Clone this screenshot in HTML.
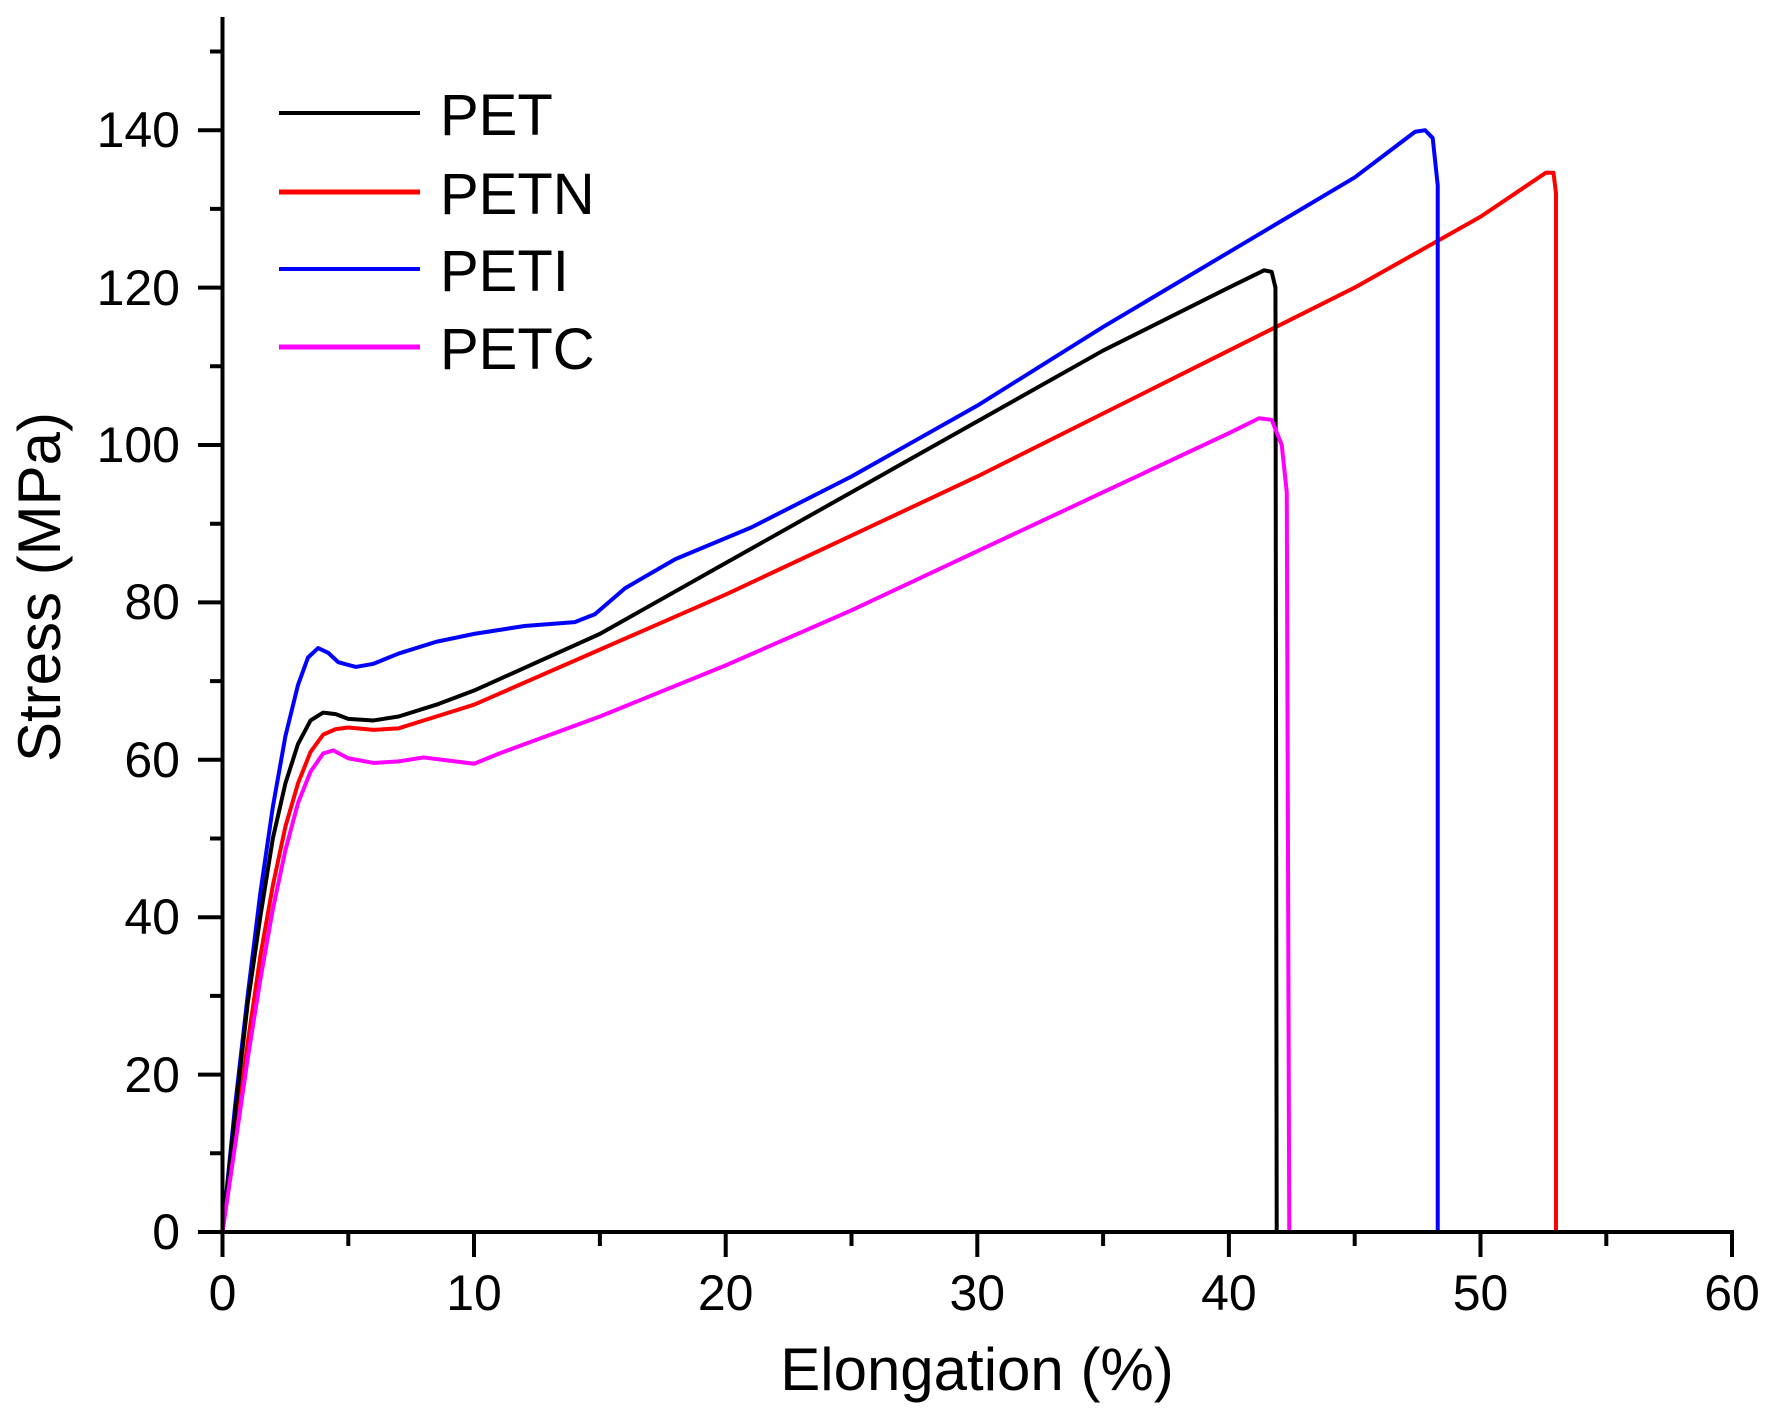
<!DOCTYPE html>
<html><head><meta charset="utf-8"><style>
html,body{margin:0;padding:0;background:#fff;}
svg{display:block;font-family:"Liberation Sans",sans-serif;}
</style></head><body>
<svg width="1771" height="1421" viewBox="0 0 1771 1421" xmlns="http://www.w3.org/2000/svg">
<rect width="1771" height="1421" fill="#fff"/>
<g transform="translate(222.5,1232) scale(25.16,-7.87)" fill="none" stroke-linejoin="round" stroke-linecap="round">
<path vector-effect="non-scaling-stroke" stroke="#ff0000" stroke-width="4" d="M0,0 L0.5,12 L1,24 L1.5,35 L2,44 L2.5,51.5 L3,57 L3.5,61 L4,63.2 L4.5,63.9 L5,64.1 L6,63.8 L7,64 L8.5,65.5 L10,67 L15,74 L20,81 L25,88.5 L30,96 L35,104 L40,112 L45,120 L50,129 L52.6,134.6 L52.9,134.6 L53,132 L53,0"/>
<path vector-effect="non-scaling-stroke" stroke="#0000ff" stroke-width="4" d="M0,0 L0.5,16 L1,30 L1.5,43 L2,54 L2.5,63 L3,69.5 L3.4,73 L3.8,74.2 L4.2,73.6 L4.6,72.4 L5.3,71.8 L6,72.2 L7,73.5 L8.5,75 L10,76 L12,77 L14,77.5 L14.8,78.5 L16,81.8 L18,85.5 L21,89.5 L25,96 L30,105 L35,115 L40,124.5 L45,134 L47.4,139.8 L47.8,140 L48.1,139 L48.3,133 L48.3,0"/>
<path vector-effect="non-scaling-stroke" stroke="#000" stroke-width="4" d="M0,0 L0.5,15 L1,29 L1.5,40 L2,50 L2.5,57 L3,62 L3.5,65 L4,66 L4.5,65.8 L5,65.2 L6,65 L7,65.5 L8.5,67 L10,68.8 L15,76 L20,85 L25,94 L30,103 L35,112 L40,120 L41.4,122.2 L41.7,122 L41.85,120 L41.9,0"/>
<path vector-effect="non-scaling-stroke" stroke="#ff00ff" stroke-width="4" d="M0,0 L0.5,11 L1,22 L1.5,32 L2,41 L2.5,48.5 L3,54.5 L3.5,58.5 L4,60.8 L4.4,61.2 L5,60.2 L6,59.6 L7,59.8 L8,60.3 L9,59.9 L10,59.5 L11,60.8 L15,65.5 L20,72 L25,79 L30,86.5 L35,94 L40,101.5 L41.2,103.4 L41.7,103.2 L42.1,100 L42.3,94 L42.4,0"/>
</g>
<g stroke="#000" stroke-width="4" fill="none">
<line x1="222.5" y1="17" x2="222.5" y2="1234"/>
<line x1="220" y1="1232" x2="1734" y2="1232"/>
<path d="M222.5,1232v25 M474,1232v25 M725.7,1232v25 M977.3,1232v25 M1228.9,1232v25 M1480.5,1232v25 M1732,1232v25 M348.3,1232v14 M599.9,1232v14 M851.5,1232v14 M1103.1,1232v14 M1354.7,1232v14 M1606.3,1232v14"/>
<path d="M198,1232h24 M198,1074.6h24 M198,917.2h24 M198,759.8h24 M198,602.4h24 M198,445h24 M198,287.6h24 M198,130.2h24 M210,1153.3h12 M210,995.9h12 M210,838.5h12 M210,681.1h12 M210,523.7h12 M210,366.3h12 M210,208.9h12 M210,51.5h12"/>
</g>
<g font-size="50" fill="#000" text-anchor="end">
<text x="180" y="1249">0</text>
<text x="180" y="1092">20</text>
<text x="180" y="934">40</text>
<text x="180" y="777">60</text>
<text x="180" y="619">80</text>
<text x="180" y="462">100</text>
<text x="180" y="305">120</text>
<text x="180" y="147">140</text>
</g>
<g font-size="50" fill="#000" text-anchor="middle">
<text x="222.5" y="1310">0</text>
<text x="474" y="1310">10</text>
<text x="725.7" y="1310">20</text>
<text x="977.3" y="1310">30</text>
<text x="1228.9" y="1310">40</text>
<text x="1480.5" y="1310">50</text>
<text x="1732" y="1310">60</text>
</g>
<text x="977" y="1390" font-size="60" text-anchor="middle">Elongation (%)</text>
<text transform="translate(60,587) rotate(-90)" font-size="60" text-anchor="middle">Stress (MPa)</text>
<g stroke-width="5">
<line x1="279" y1="113" x2="420" y2="113" stroke="#000" stroke-width="4"/>
<line x1="279" y1="192" x2="420" y2="192" stroke="#ff0000"/>
<line x1="279" y1="269" x2="420" y2="269" stroke="#0000ff" stroke-width="4"/>
<line x1="279" y1="347" x2="420" y2="347" stroke="#ff00ff"/>
</g>
<g font-size="58" fill="#000">
<text x="440" y="135">PET</text>
<text x="440" y="214">PETN</text>
<text x="440" y="291">PETI</text>
<text x="440" y="369">PETC</text>
</g>
</svg>
</body></html>
